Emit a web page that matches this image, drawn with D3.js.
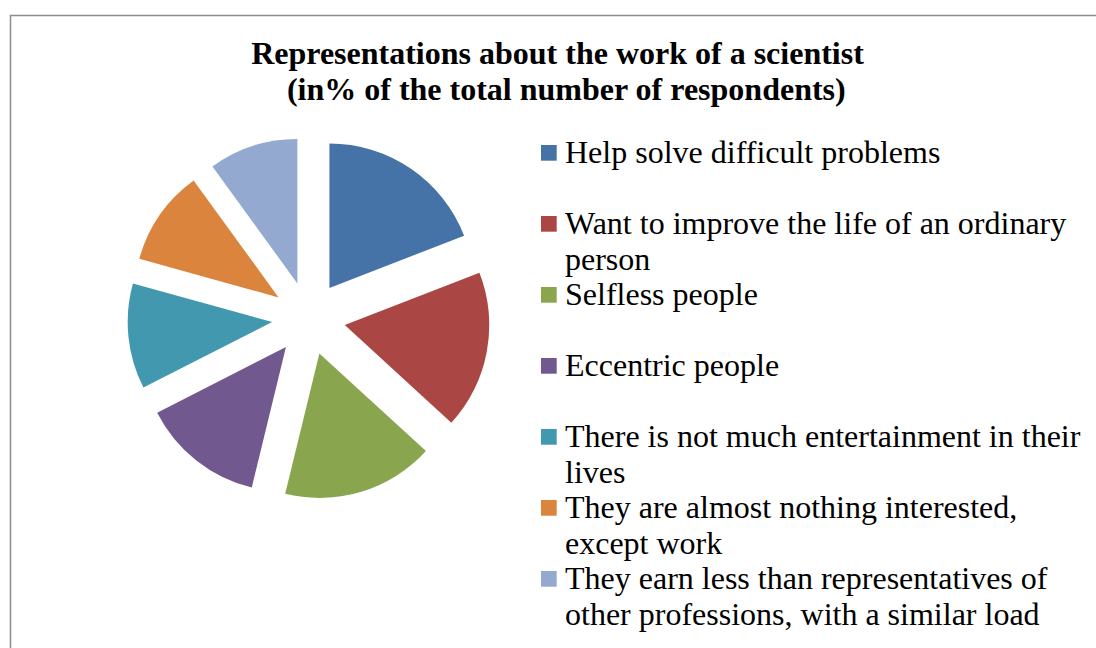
<!DOCTYPE html>
<html>
<head>
<meta charset="utf-8">
<script src="https://cdn.jsdelivr.net/npm/d3@7/dist/d3.min.js"></script>
<style>
  html, body { margin: 0; padding: 0; background: #fff; }
  svg { display: block; }
</style>
</head>
<body>
<svg id="chart" width="1096" height="648"></svg>
<script>
// ---- data ----
const categories = [
  "Help solve difficult problems",
  "Want to improve the life of an ordinary person",
  "Selfless people",
  "Eccentric people",
  "There is not much entertainment in their lives",
  "They are almost nothing interested, except work",
  "They earn less than representatives of other professions, with a similar load"
];
const legendLines = [
  ["Help solve difficult problems"],
  ["Want to improve the life of an ordinary", "person"],
  ["Selfless people"],
  ["Eccentric people"],
  ["There is not much entertainment in their", "lives"],
  ["They are almost nothing interested,", "except work"],
  ["They earn less than representatives of", "other professions, with a similar load"]
];
const values = [19.1, 17.7, 17.0, 13.7, 11.8, 10.7, 10.0];
const colors = ["#4572A7", "#AA4643", "#89A54E", "#71588F", "#4198AF", "#DB843D", "#93A9CF"];
const titleLines = ["Representations about the work of a scientist", "(in% of the total number of respondents)"];

// ---- layout ----
const FONT = "'Liberation Serif', Tinos, 'Times New Roman', Times, 'DejaVu Serif', serif";
const svg = d3.select("#chart");
const cx = 308.7, cy = 318.3, radius = 144.5, explode = 36.7;

// chart border
svg.append("rect")
  .attr("x", 10.5).attr("y", 15.5)
  .attr("width", 1200).attr("height", 800)
  .attr("fill", "none").attr("stroke", "#8c8c8c").attr("stroke-width", 1.5);

// title
const titleX = [557.5, 566.3];
const titleY = [64.3, 100];
svg.selectAll("text.title").data(titleLines).enter().append("text")
  .attr("class", "title")
  .attr("x", (d, i) => titleX[i]).attr("y", (d, i) => titleY[i])
  .attr("text-anchor", "middle")
  .attr("font-family", FONT)
  .attr("font-weight", "bold").attr("font-size", 32)
  .attr("fill", "#000")
  .text(d => d);

// pie
const pie = d3.pie().sort(null).value(d => d).startAngle(0).endAngle(2 * Math.PI);
const arc = d3.arc().innerRadius(0).outerRadius(radius);
const color = d3.scaleOrdinal().domain(d3.range(values.length)).range(colors);

const g = svg.append("g").attr("transform", `translate(${cx},${cy})`);
g.selectAll("path").data(pie(values)).enter().append("path")
  .attr("d", arc)
  .attr("fill", (d, i) => color(i))
  .attr("transform", d => {
    const a = (d.startAngle + d.endAngle) / 2;
    return `translate(${Math.sin(a) * explode},${-Math.cos(a) * explode})`;
  });

// legend
const legX = 541, textX = 565, base0 = 162.7, step = 71, lineH = 36.6, sq = 15.7;
const leg = svg.append("g");
legendLines.forEach((lines, i) => {
  const by = base0 + i * step;
  leg.append("rect")
    .attr("x", legX).attr("y", by - 17.7)
    .attr("width", sq).attr("height", sq)
    .attr("fill", color(i));
  const t = leg.append("text")
    .attr("font-family", FONT)
    .attr("font-size", 32).attr("fill", "#000");
  lines.forEach((ln, j) => {
    t.append("tspan").attr("x", textX).attr("y", by + j * lineH).text(ln);
  });
});
</script>
</body>
</html>
